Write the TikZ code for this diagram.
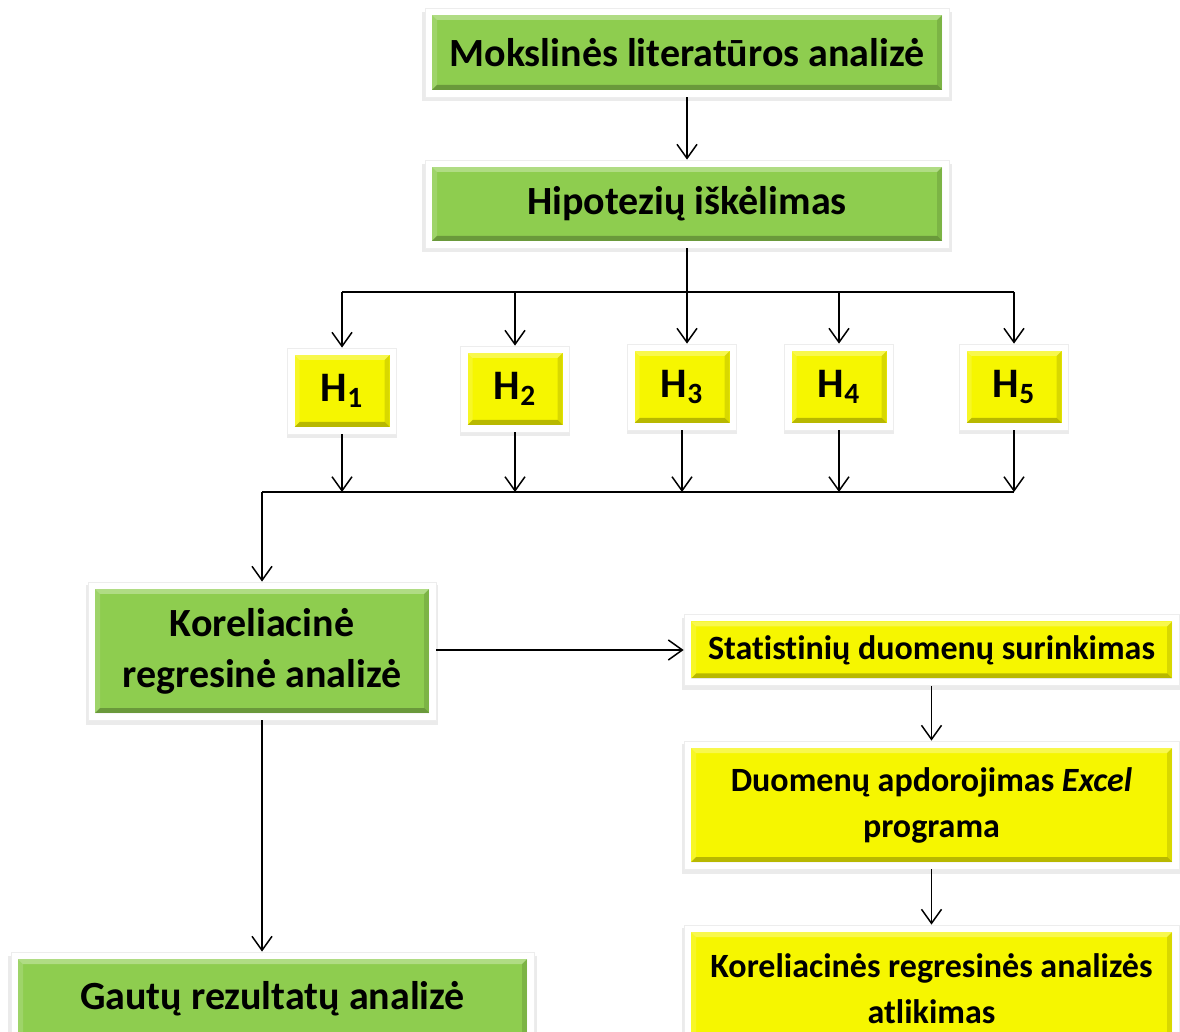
\documentclass[tikz,border=0pt]{standalone}
\usepackage{fontspec}
\setmainfont{Carlito}[Ligatures={NoCommon}]
\usetikzlibrary{arrows.meta,shadows}

\definecolor{boxgreen}{HTML}{8ECD4F}
\definecolor{boxyellow}{HTML}{F6F600}

\tikzset{
  bevelbox/.style={rectangle, fill=white, draw=black!7, line width=0.4pt, inner sep=0pt, align=center,
    font=\fontsize{20}{25.5}\selectfont\bfseries,
    drop shadow={opacity=0.16, shadow xshift=0pt, shadow yshift=-2pt, shadow scale=1.01},
    path picture={
      \coordinate (pnw) at ([shift={(3.5pt,-3.5pt)}]path picture bounding box.north west);
      \coordinate (pse) at ([shift={(-3.5pt,3.5pt)}]path picture bounding box.south east);
      \fill[#1] (pnw) rectangle (pse);
      \fill[white, opacity=.3] (pnw) -- (pnw -| pse) -- ++(-2.5pt,-2.5pt) -- ([shift={(2.5pt,-2.5pt)}]pnw) -- cycle;
      \fill[white, opacity=.15] (pnw) -- (pnw |- pse) -- ++(2.5pt,2.5pt) -- ([shift={(2.5pt,-2.5pt)}]pnw) -- cycle;
      \fill[black, opacity=.12] (pse) -- (pse |- pnw) -- ++(-2.5pt,-2.5pt) -- ([shift={(-2.5pt,2.5pt)}]pse) -- cycle;
      \fill[black, opacity=.25] (pse) -- (pse -| pnw) -- ++(2.5pt,2.5pt) -- ([shift={(-2.5pt,2.5pt)}]pse) -- cycle;
    }},
  greenbox/.style={bevelbox=boxgreen},
  yellowbox/.style={bevelbox=boxyellow},
  smalltext/.style={font=\fontsize{17}{23}\selectfont\bfseries},
  hbox/.style={yellowbox, minimum width=54.5pt, minimum height=43pt, font=\fontsize{21}{25}\selectfont\bfseries},
  >={Straight Barb[length=7pt,width=10pt]}
}

\begin{document}
\begin{tikzpicture}[x=0.5pt,y=0.5pt,line width=0.75pt]
\useasboundingbox (0,0) rectangle (1180,-1032);
\clip (0,0) rectangle (1180,-1032);

% top boxes
\node (lit) [greenbox, minimum width=262pt, minimum height=44.5pt] at (687,-52.5) {Mokslinės literatūros analizė};
\node (hyp) [greenbox, minimum width=262pt, minimum height=44pt] at (687,-204) {Hipotezių iškėlimas};

% hypotheses
\node (H1) [hbox] at (342,-391) {H\textsubscript{1}};
\node (H2) [hbox] at (515,-389) {H\textsubscript{2}};
\node (H3) [hbox] at (682,-387) {H\textsubscript{3}};
\node (H4) [hbox] at (839,-387) {H\textsubscript{4}};
\node (H5) [hbox] at (1014,-387) {H\textsubscript{5}};

\coordinate (tbus) at (0,-292);
\coordinate (bbus) at (0,-492);

% analysis
\node (kor) [greenbox, minimum width=174pt, minimum height=69pt] at (262,-651) {Koreliacinė\\regresinė analizė};
\node (gaut) [greenbox, minimum width=261.5pt, minimum height=47pt] at (272.5,-999) {Gautų rezultatų analizė};

\node (stat) [yellowbox, smalltext, minimum width=247.5pt, minimum height=35.5pt] at (931.5,-650) {Statistinių duomenų surinkimas};
\node (duom) [yellowbox, smalltext, minimum width=247.5pt, minimum height=64pt] at (931.5,-805) {Duomenų apdorojimas \textit{Excel}\\programa};
\node (kra) [yellowbox, smalltext, minimum width=247.5pt, minimum height=64pt] at (931.5,-989) {Koreliacinės regresinės analizės\\atlikimas};

% connectors
\draw[->] (lit.south) -- (hyp.north);
\draw (H1.north |- tbus) -- (H5.north |- tbus);
\draw[->] (hyp.south) -- (hyp.south |- H3.north);
\foreach \i in {1,2,4,5}
  \draw[->] (H\i.north |- tbus) -- (H\i.north);
\foreach \i in {1,...,5}
  \draw[->] (H\i.south) -- (H\i.south |- bbus);
\draw (kor.north |- bbus) -- (H5.south |- bbus);
\draw[->] (kor.north |- bbus) -- (kor.north);
\draw[->] (kor.east |- stat.west) -- (stat.west);
\draw[->] (kor.south) -- (kor.south |- gaut.north);
\draw[->] (stat.south) -- (duom.north);
\draw[->] (duom.south) -- (kra.north);
\end{tikzpicture}
\end{document}
